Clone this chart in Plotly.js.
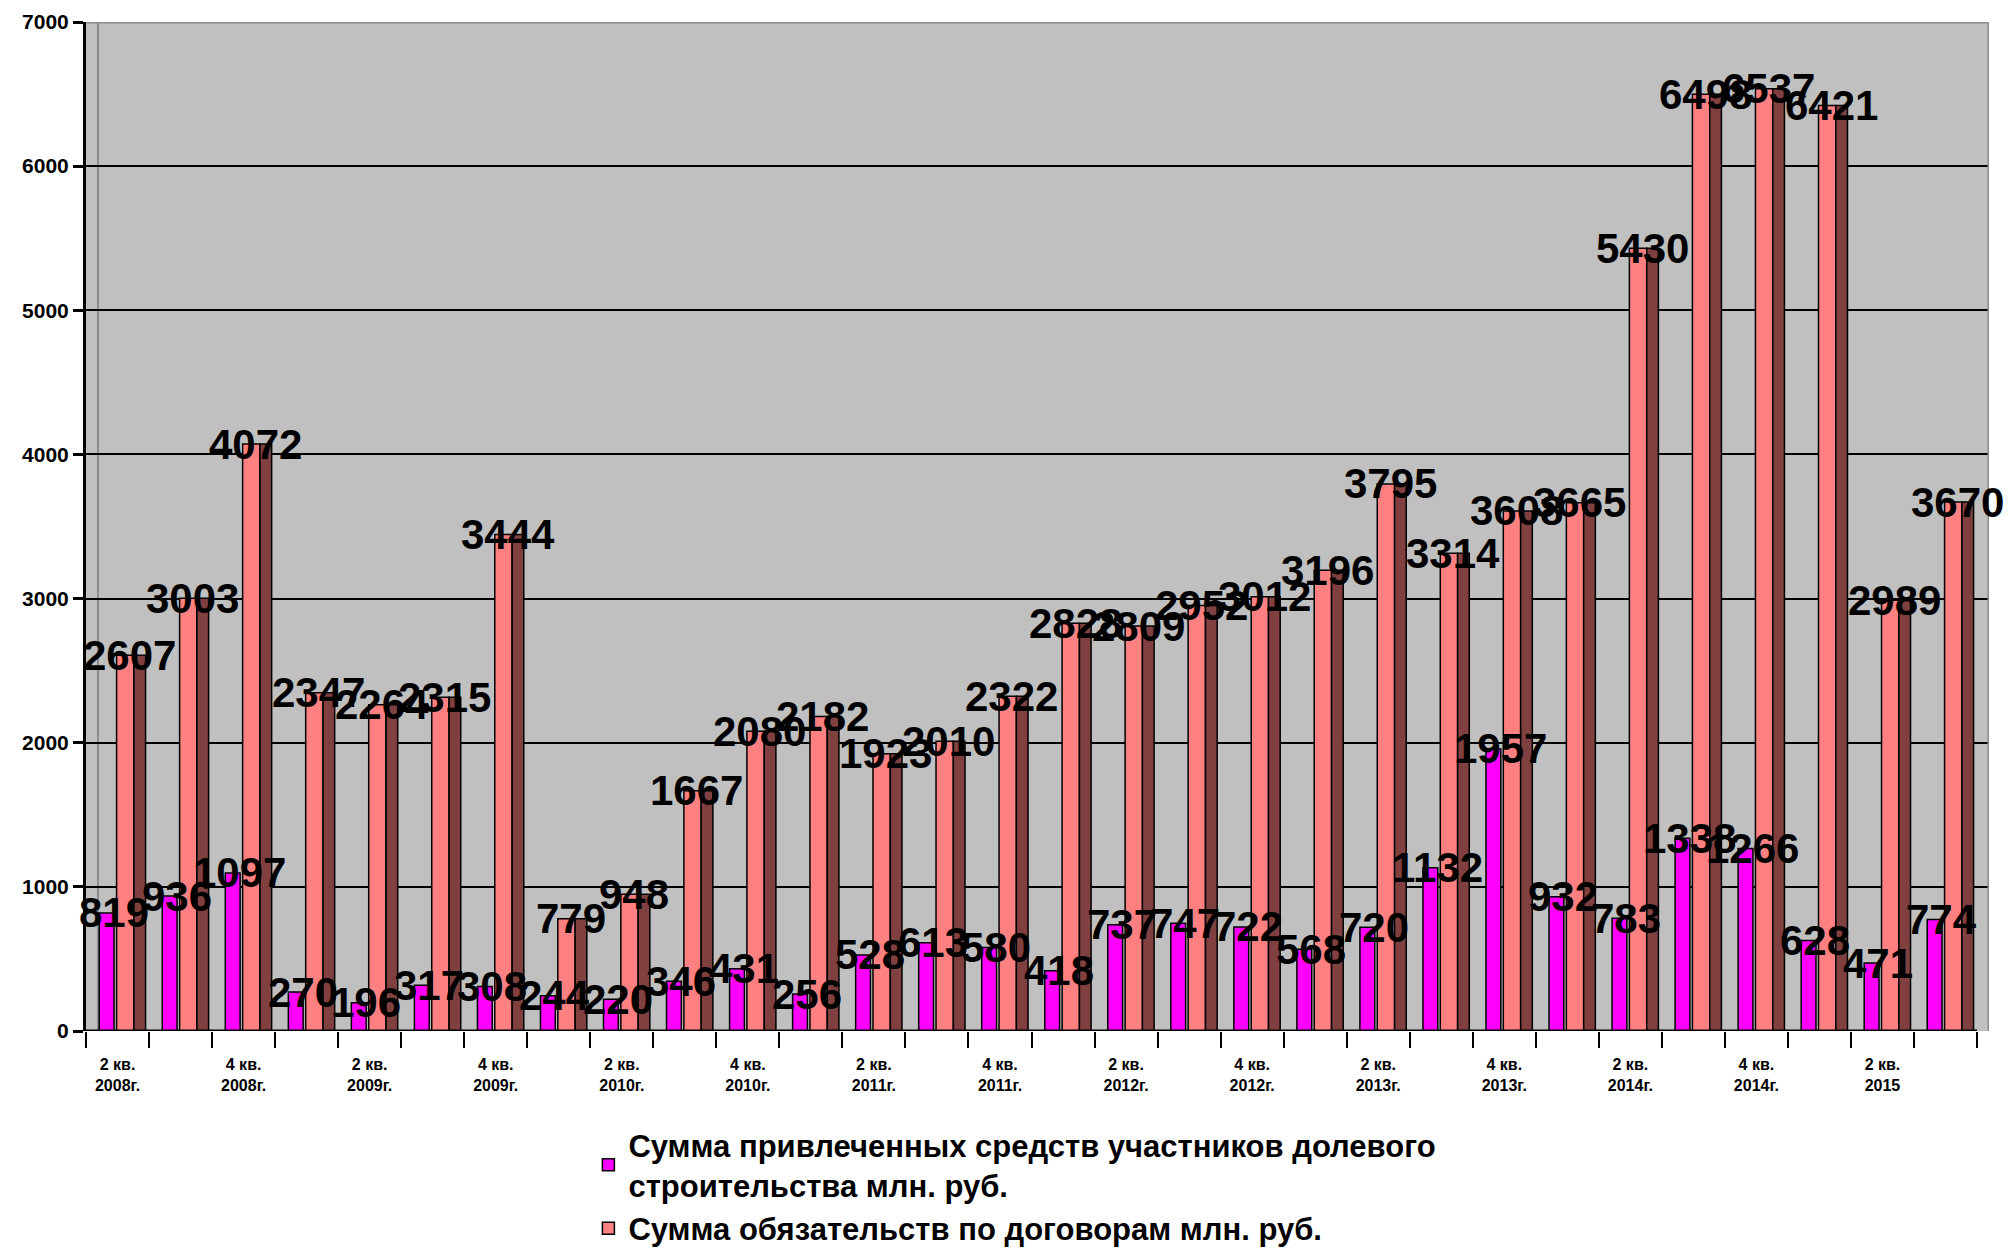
<!DOCTYPE html>
<html>
<head>
<meta charset="utf-8">
<script src="https://cdn.plot.ly/plotly-3.0.1.min.js"></script>
<style>
  html, body { margin: 0; padding: 0; background: #ffffff; }
  #chart { width: 2015px; height: 1254px; }
</style>
</head>
<body>
<div id="chart"></div>
<script>
// ---- data ----
const quarters = [
  "2 кв. 2008г.", "3 кв. 2008г.", "4 кв. 2008г.",
  "1 кв. 2009г.", "2 кв. 2009г.", "3 кв. 2009г.", "4 кв. 2009г.",
  "1 кв. 2010г.", "2 кв. 2010г.", "3 кв. 2010г.", "4 кв. 2010г.",
  "1 кв. 2011г.", "2 кв. 2011г.", "3 кв. 2011г.", "4 кв. 2011г.",
  "1 кв. 2012г.", "2 кв. 2012г.", "3 кв. 2012г.", "4 кв. 2012г.",
  "1 кв. 2013г.", "2 кв. 2013г.", "3 кв. 2013г.", "4 кв. 2013г.",
  "1 кв. 2014г.", "2 кв. 2014г.", "3 кв. 2014г.", "4 кв. 2014г.",
  "1 кв. 2015", "2 кв. 2015", "3 кв. 2015"
];
const attracted = [819, 936, 1097, 270, 196, 317, 308, 244, 220, 346, 431, 256, 528, 613, 580,
                   418, 737, 747, 722, 568, 720, 1132, 1957, 932, 783, 1338, 1266, 628, 471, 774];
const obligations = [2607, 3003, 4072, 2347, 2264, 2315, 3444, 779, 948, 1667, 2080, 2182, 1923, 2010, 2322,
                     2828, 2809, 2952, 3012, 3196, 3795, 3314, 3608, 3665, 5430, 6498, 6537, 6421, 2989, 3670];
const tickLabels = [
  "2 кв.<br>2008г.", "4 кв.<br>2008г.", "2 кв.<br>2009г.", "4 кв.<br>2009г.",
  "2 кв.<br>2010г.", "4 кв.<br>2010г.", "2 кв.<br>2011г.", "4 кв.<br>2011г.",
  "2 кв.<br>2012г.", "4 кв.<br>2012г.", "2 кв.<br>2013г.", "4 кв.<br>2013г.",
  "2 кв.<br>2014г.", "4 кв.<br>2014г.", "2 кв.<br>2015"
];
const seriesNames = [
  "Сумма привлеченных средств участников долевого<br>строительства млн. руб.",
  "Сумма обязательств по договорам млн. руб."
];
const yTicks = [0, 1000, 2000, 3000, 4000, 5000, 6000, 7000];

// ---- style ----
const FONT = "Liberation Sans, Arial, Helvetica, sans-serif";
const C_MAG = "#FF00FF", C_SAL = "#FF8080", C_BRN = "#804040";
const n = quarters.length;
const xRightPad = 0.19;

const outline = { color: "#000000", width: 1.5 };

const traces = [
  {
    type: "bar", name: seriesNames[0], x: quarters, y: attracted,
    offset: -0.29, width: 0.235,
    marker: { color: C_MAG, line: outline },
    hoverinfo: "x+y"
  },
  {
    type: "bar", name: seriesNames[1], x: quarters, y: obligations,
    offset: -0.015, width: 0.275,
    marker: { color: C_SAL, line: outline },
    hoverinfo: "x+y"
  },
  {
    type: "bar", name: "side", x: quarters, y: obligations,
    offset: 0.26, width: 0.185, showlegend: false,
    marker: { color: C_BRN, line: outline },
    hoverinfo: "skip"
  }
];

const annotations = [];
const labelFont = { family: FONT, size: 42, color: "#000000", weight: "bold" };
attracted.forEach((v, i) => {
  annotations.push({ x: quarters[i], y: v, xref: "x", yref: "y", text: String(v),
    showarrow: false, xanchor: "center", yanchor: "middle", xshift: -4, yshift: 0, font: labelFont });
});
obligations.forEach((v, i) => {
  annotations.push({ x: quarters[i], y: v, xref: "x", yref: "y", text: String(v),
    showarrow: false, xanchor: "center", yanchor: "middle", xshift: 12, yshift: 0, font: labelFont });
});

const wallX = -0.5 + 0.19;
const shapes = [
  { type: "line", xref: "x", yref: "y", x0: -0.5, x1: n - 0.5, y0: 0, y1: 0, line: { color: "#000", width: 3 }, layer: "above" },
  { type: "line", xref: "x", yref: "y", x0: wallX, x1: wallX, y0: 0, y1: 7000, line: { color: "#8c8c8c", width: 2 }, layer: "below" },
  { type: "line", xref: "x", yref: "y", x0: -0.5, x1: n - 0.5 + xRightPad, y0: 7000, y1: 7000, line: { color: "#8c8c8c", width: 3 }, layer: "above" },
  { type: "line", xref: "x", yref: "y", x0: n - 0.5 + xRightPad, x1: n - 0.5 + xRightPad, y0: 0, y1: 7000, line: { color: "#8c8c8c", width: 3 }, layer: "above" }
];

const layout = {
  width: 2015, height: 1254,
  margin: { l: 86, r: 26, t: 22, b: 223, pad: 0, autoexpand: false },
  paper_bgcolor: "#ffffff",
  plot_bgcolor: "#C0C0C0",
  barmode: "overlay",
  showlegend: true,
  font: { family: FONT, color: "#000" },
  xaxis: {
    type: "category", categoryorder: "array", categoryarray: quarters,
    range: [-0.5, n - 0.5 + xRightPad],
    tickson: "boundaries", tickmode: "linear", dtick: 1,
    ticks: "outside", ticklen: 16, tickwidth: 2, tickcolor: "#000",
    showticklabels: false, showline: false, showgrid: false, zeroline: false,
    fixedrange: true
  },
  xaxis2: {
    overlaying: "x", anchor: "y", side: "bottom", type: "linear",
    range: [-0.5, n - 0.5 + xRightPad],
    tickmode: "array", tickvals: tickLabels.map((_, i) => i * 2), ticktext: tickLabels,
    ticks: "outside", ticklen: 16, tickcolor: "rgba(0,0,0,0)",
    showline: false, showgrid: false, zeroline: false,
    tickfont: { family: FONT, size: 16, color: "#000", weight: "bold" },
    ticklabelstandoff: 3,
    fixedrange: true
  },
  yaxis: {
    range: [0, 7000], tickmode: "array", tickvals: yTicks,
    ticks: "outside", ticklen: 10, tickwidth: 3, tickcolor: "#000",
    showline: true, linecolor: "#000", linewidth: 3,
    showgrid: true, gridcolor: "#000", gridwidth: 2, zeroline: false,
    tickfont: { family: FONT, size: 21, color: "#000", weight: "bold" },
    fixedrange: true
  },
  legend: {
    x: 0.264, y: -0.222, xanchor: "left", yanchor: "bottom",
    orientation: "v", bgcolor: "rgba(0,0,0,0)",
    font: { family: FONT, size: 31, color: "#000", weight: "bold" },
    tracegroupgap: 0, itemwidth: 30
  },
  annotations: annotations,
  shapes: shapes
};

traces.push({ type: "scatter", x: [0], y: [0], xaxis: "x2", yaxis: "y", mode: "markers",
  marker: { opacity: 0 }, showlegend: false, hoverinfo: "skip" });

Plotly.newPlot("chart", traces, layout, { displayModeBar: false, staticPlot: true });
</script>
</body>
</html>
